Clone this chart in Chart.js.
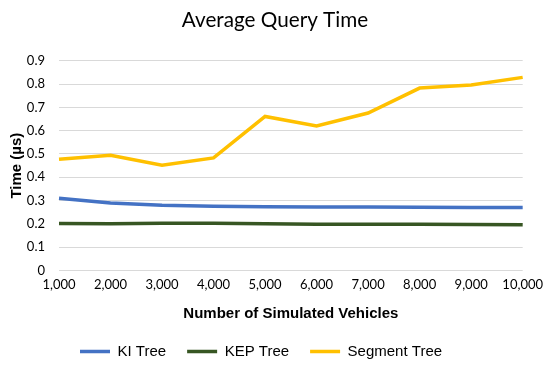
<!DOCTYPE html>
<html lang="en">
<head>
  <meta charset="UTF-8" />
  <title>Average Query Time</title>
  <script src="https://cdn.jsdelivr.net/npm/chart.js"></script>
  <style>
    html, body { margin: 0; padding: 0; background: #fff; }
    #wrap { width: 550px; height: 369px; }
  </style>
</head>
<body>
  <div id="wrap"><canvas id="grafica"></canvas></div>

  <script>
  // datos
  const vehiculos = ['1,000', '2,000', '3,000', '4,000', '5,000', '6,000', '7,000', '8,000', '9,000', '10,000'];
  const kiTree = [0.310, 0.289, 0.280, 0.276, 0.273, 0.272, 0.272, 0.271, 0.270, 0.270];
  const kepTree = [0.201, 0.200, 0.203, 0.203, 0.200, 0.198, 0.198, 0.198, 0.197, 0.196];
  const segmentTree = [0.477, 0.494, 0.452, 0.483, 0.661, 0.620, 0.676, 0.783, 0.796, 0.829];

  const ctx = document.getElementById('grafica').getContext('2d');

  new Chart(ctx, {
    type: 'line',
    data: {
      labels: vehiculos,
      datasets: [
        { label: 'KI Tree', data: kiTree, borderColor: '#4472C4', backgroundColor: '#4472C4', borderWidth: 3.5 },
        { label: 'KEP Tree', data: kepTree, borderColor: '#375623', backgroundColor: '#375623', borderWidth: 3.5 },
        { label: 'Segment Tree', data: segmentTree, borderColor: '#FFC000', backgroundColor: '#FFC000', borderWidth: 3.5 }
      ]
    },
    options: {
      responsive: true,
      maintainAspectRatio: false,
      animation: false,
      layout: { padding: { left: 8, right: 8, top: 6, bottom: 0 } },
      elements: {
        line: { tension: 0 },
        point: { radius: 0 }
      },
      scales: {
        x: {
          offset: false,
          grid: { display: false, drawTicks: false },
          border: { display: false },
          ticks: { color: '#000', font: { family: 'Lato', size: 13 }, maxRotation: 0, autoSkip: false, padding: 7 },
          title: { display: true, text: 'Number of Simulated Vehicles', color: '#000',
                   font: { family: 'Liberation Sans', size: 15, weight: 'bold' }, padding: { top: 5, bottom: 0 } }
        },
        y: {
          min: 0, max: 0.9,
          grid: { color: '#d9d9d9', lineWidth: 1, drawTicks: false },
          border: { display: false },
          ticks: { stepSize: 0.1, color: '#000', font: { family: 'Lato', size: 13 }, padding: 14,
                   callback: v => Math.round(v * 10) / 10 },
          title: { display: true, text: 'Time (µs)', color: '#000',
                   font: { family: 'Liberation Sans', size: 15, weight: 'bold' }, padding: { top: 0, bottom: 2 } },
          afterFit: s => { s.width = 51; }
        },
        // eje vacio a la derecha: solo deja margen
        margen: {
          position: 'right',
          grid: { display: false, drawTicks: false },
          border: { display: false },
          ticks: { display: false },
          afterFit: s => { s.width = 18; }
        }
      },
      plugins: {
        title: {
          display: true, text: 'Average Query Time', color: '#000',
          font: { family: 'Lato', size: 20.7, weight: 'normal' }, padding: { top: 2, bottom: 28 }
        },
        legend: {
          position: 'bottom',
          fullSize: false,
          align: 'start',
          labels: { color: '#000', usePointStyle: true, pointStyle: 'line', pointStyleWidth: 30, boxWidth: 30,
                    padding: 21, font: { family: 'Liberation Sans', size: 15 } }
        },
        tooltip: { enabled: false }
      }
    }
  });
  </script>
</body>
</html>
